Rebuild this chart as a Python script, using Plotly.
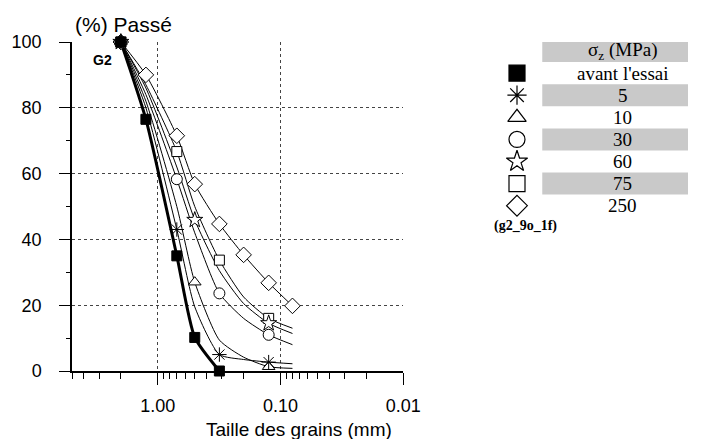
import math
import plotly.graph_objects as go

# ---------------- data ----------------
sieve_mm = [2, 1.25, 0.7, 0.5, 0.315, 0.2, 0.125, 0.08]

avant = [100, 76.5, 35, 10.2, 0]
p5 = [100, 80, 43, 19.5, 5, 3.5, 2.7, 2.2]
p10 = [100, 82, 50, 27, 9.4, 4.2, 1.3, 0.8]
p30 = [100, 84, 58.3, 42, 23.6, 16, 11, 8]
p60 = [100, 86, 62, 45.9, 30.5, 20.5, 14.5, 11.4]
p75 = [100, 87, 66.7, 50, 33.7, 22.5, 16, 13]
p250 = [100, 90, 71.5, 56.8, 44.7, 35.3, 26.8, 19.8]

legend_labels = ["avant l'essai", "5", "10", "30", "60", "75", "250"]
legend_header = "σ<sub>z</sub> (MPa)"

x_ticks = [1, 0.1, 0.01]
x_ticktext = ["1.00", "0.10", "0.01"]
y_ticks = [0, 20, 40, 60, 80, 100]

# sieve indices that carry a marker on the curve
marked = [
    [0, 1, 2, 3, 4],
    [0, 2, 4, 6],
    [0, 3, 6],
    [0, 2, 4, 6],
    [0, 3, 6],
    [0, 2, 4, 6],
    [0, 1, 2, 3, 4, 5, 6, 7],
]

series = [avant, p5, p10, p30, p60, p75, p250]
symbols = ["square", "asterisk-open", "triangle-up", "circle", "star", "square", "diamond"]
fills = ["black", "black", "white", "white", "white", "white", "white"]
msizes = [10, 12, 11, 11, 12, 10, 12]

# ---------------- geometry ----------------
W, H = 706, 439
L, R, T, B = 72, 0, 42, 68
plot_right_px = 413
pw = W - L - R
ph = H - T - B
xdom = (plot_right_px - L) / pw

SANS = "Liberation Sans, Arial, sans-serif"
SERIF = "Liberation Serif, Times New Roman, serif"

fig = go.Figure()

order = [6, 5, 4, 3, 2, 1, 0]
for i in order:
    ys = series[i]
    xs = sieve_mm[:len(ys)]
    fig.add_trace(go.Scatter(
        x=xs, y=ys, mode="lines",
        line=dict(color="black", width=3 if i == 0 else 1, shape="spline", smoothing=0.6),
        showlegend=False, hoverinfo="skip", cliponaxis=False,
    ))
for i in order:
    ys = series[i]
    idx = marked[i]
    fig.add_trace(go.Scatter(
        x=[sieve_mm[k] for k in idx], y=[ys[k] for k in idx], mode="markers",
        marker=dict(symbol=symbols[i], size=msizes[i], color=fills[i],
                    line=dict(color="black", width=1)),
        showlegend=False, cliponaxis=False,
    ))

# ---------------- custom legend (table-like) ----------------
row_y0, row_dy = 51, 22.1
rows_y = [row_y0 + row_dy * r for r in range(len(legend_labels) + 1)]
label_x, marker_x = 639, 530

shapes = []
for r in range(0, len(rows_y), 2):
    shapes.append(dict(type="rect", xref="x2", yref="y2",
                       x0=556, x1=706, y0=rows_y[r] - 11, y1=rows_y[r] + 11,
                       fillcolor="#c9c9c9", line=dict(width=0), layer="below"))

fig.add_trace(go.Scatter(
    x=[marker_x] * len(legend_labels), y=rows_y[1:], xaxis="x2", yaxis="y2",
    mode="markers",
    marker=dict(symbol=symbols, size=16, color=fills,
                line=dict(color="black", width=1.2)),
    showlegend=False, hoverinfo="skip", cliponaxis=False,
))

annotations = []
annotations.append(dict(xref="x2", yref="y2", x=label_x, y=rows_y[0], text=legend_header,
                        showarrow=False, font=dict(family=SERIF, size=19, color="black"),
                        xanchor="center", yanchor="middle"))
for r, lab in enumerate(legend_labels):
    annotations.append(dict(xref="x2", yref="y2", x=label_x, y=rows_y[r + 1], text=lab,
                            showarrow=False, font=dict(family=SERIF, size=19, color="black"),
                            xanchor="center", yanchor="middle"))
annotations.append(dict(xref="x2", yref="y2", x=539, y=226, text="<b>(g2_9o_1f)</b>",
                        showarrow=False, font=dict(family=SERIF, size=14, color="black"),
                        xanchor="center", yanchor="middle"))

# titles / labels
annotations.append(dict(xref="paper", yref="paper", x=(73 - L) / pw, y=(H - B - 24) / ph,
                        text="(%) Passé", showarrow=False, xanchor="left", yanchor="middle",
                        font=dict(family=SANS, size=21, color="black")))
annotations.append(dict(xref="paper", yref="paper", x=(92 - L) / pw, y=(H - B - 60) / ph,
                        text="<b>G2</b>", showarrow=False, xanchor="left", yanchor="middle",
                        font=dict(family=SANS, size=14, color="black")))
annotations.append(dict(xref="paper", yref="paper", x=(306 - L) / pw, y=(H - B - 429) / ph,
                        text="Taille des grains (mm)", showarrow=False, xanchor="center",
                        yanchor="middle", font=dict(family=SANS, size=19, color="black")))

grid = dict(showgrid=True, gridcolor="#444", gridwidth=1, griddash="dot")

fig.update_layout(
    width=W, height=H, margin=dict(l=L, r=R, t=T, b=B, pad=0),
    paper_bgcolor="white", plot_bgcolor="white", showlegend=False,
    xaxis=dict(type="log", domain=[0, xdom], range=[math.log10(5), -2],
               tickvals=x_ticks, ticktext=x_ticktext, ticks="outside", ticklen=12,
               tickwidth=1, tickcolor="black", showline=True, linecolor="black",
               linewidth=1.5, zeroline=False, ticklabelstandoff=6,
               tickfont=dict(family=SANS, size=18, color="black"),
               minor=dict(ticks="outside", ticklen=6, tickcolor="black", dtick="D1",
                          showgrid=False),
               **grid),
    yaxis=dict(range=[0, 100], tickvals=y_ticks, ticks="outside", ticklen=11,
               tickwidth=1, tickcolor="black", showline=True, linecolor="black",
               linewidth=1.5, zeroline=False, ticklabelstandoff=14,
               tickfont=dict(family=SANS, size=18, color="black"),
               minor=dict(ticks="outside", ticklen=4, tickcolor="black", dtick=10,
                          showgrid=False),
               **grid),
    xaxis2=dict(domain=[xdom, 1], range=[plot_right_px, W], visible=False, anchor="y2"),
    yaxis2=dict(domain=[0, 1], range=[H - B, T], visible=False, anchor="x2"),
    shapes=shapes,
    annotations=annotations,
)

fig.write_html("out.html")
